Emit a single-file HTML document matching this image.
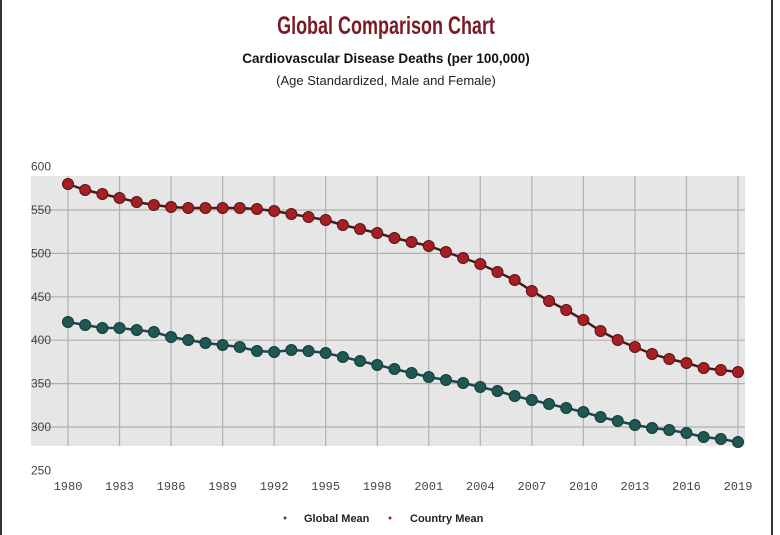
<!DOCTYPE html>
<html><head><meta charset="utf-8"><style>
body{margin:0;background:#fff;}
svg{display:block;}
</style></head><body>
<svg width="780" height="535" viewBox="0 0 780 535" xmlns="http://www.w3.org/2000/svg">
<rect x="0" y="0" width="780" height="535" fill="#fff"/>
<line x1="1" y1="0" x2="1" y2="535" stroke="#333" stroke-width="2"/>
<line x1="772" y1="0" x2="772" y2="535" stroke="#333" stroke-width="2"/>
<text x="0" y="34" text-anchor="middle" font-family="Liberation Sans, sans-serif" font-size="25" font-weight="bold" fill="#7a1a24" transform="translate(386 0) scale(0.72 1)">Global  Comparison  Chart</text>
<text x="386" y="63" text-anchor="middle" font-family="Liberation Sans, sans-serif" font-size="13.5" font-weight="bold" fill="#111">Cardiovascular Disease Deaths (per 100,000)</text>
<text x="386" y="85" text-anchor="middle" font-family="Liberation Sans, sans-serif" font-size="13" fill="#222">(Age Standardized, Male and Female)</text>
<rect x="31" y="176" width="714" height="270" fill="#e6e6e6"/>
<g stroke="#b0b0b0" stroke-width="1.2" id="grid"></g>
<g font-family="Liberation Sans, sans-serif" font-size="12" fill="#444" id="ylab"></g>
<g font-family="Liberation Mono, monospace" font-size="12" fill="#444" id="lab"></g>
<polyline id="gl" fill="none" stroke="#1d4a47" stroke-width="2.5"/>
<polyline id="cl" fill="none" stroke="#4a1a1a" stroke-width="2.5"/>
<g id="gm" fill="#1e5753" stroke="#143b38" stroke-width="1"></g>
<g id="cm" fill="#a51f25" stroke="#5a1414" stroke-width="1"></g>
<circle cx="285" cy="518" r="1.5" fill="#1e5753"/>
<text x="304" y="522" font-family="Liberation Sans, sans-serif" font-size="11" font-weight="bold" fill="#222">Global Mean</text>
<circle cx="390" cy="518" r="1.5" fill="#a51f25"/>
<text x="410" y="522" font-family="Liberation Sans, sans-serif" font-size="11" font-weight="bold" fill="#222">Country Mean</text>
</svg>
<script>
var ns="http://www.w3.org/2000/svg";
function el(t,a,p){var e=document.createElementNS(ns,t);for(var k in a)e.setAttribute(k,a[k]);document.getElementById(p).appendChild(e);return e;}
function X(i){return 68+i*670/39;}
function Y(v){return 210+(550-v)*43.4/50;}
for(var v=300;v<=550;v+=50){el('line',{x1:31,x2:745,y1:Y(v),y2:Y(v)},'grid');}
for(var v=250;v<=600;v+=50){var t=el('text',{x:31,y:Y(v)+4},'ylab');t.textContent=v;}
for(var i=0;i<40;i+=3){el('line',{x1:X(i),x2:X(i),y1:176,y2:446},'grid');var t=el('text',{x:X(i),y:490,'text-anchor':'middle'},'lab');t.textContent=1980+i;}
var c=[184,190,194,198,202,205,207,208,208,208,208,209,211,214,217,220,225,229,233,238,242,246,252,258,264,272,280,291,301,310,320,331,340,347,354,359,363,368,370,372];
var g=[322,325,328,328,330,332,337,340,343,345,347,351,352,350,351,353,357,361,365,369,373,377,380,383,387,391,396,400,404,408,412,417,421,425,428,430,433,437,439,442];
var pc=[],pg=[];
for(var i=0;i<40;i++){pc.push(X(i)+','+c[i]);pg.push(X(i)+','+g[i]);el('circle',{cx:X(i),cy:c[i],r:5.5},'cm');el('circle',{cx:X(i),cy:g[i],r:5.5},'gm');}
document.getElementById('cl').setAttribute('points',pc.join(' '));
document.getElementById('gl').setAttribute('points',pg.join(' '));
</script>
</body></html>
